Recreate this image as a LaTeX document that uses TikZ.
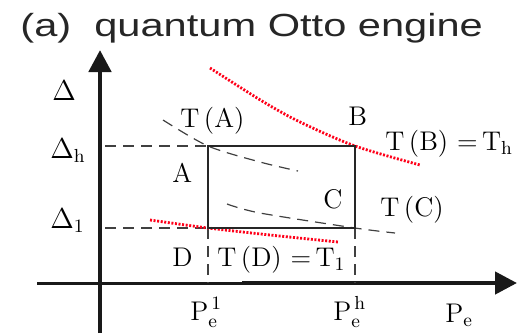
\documentclass[tikz,border=0pt]{standalone}
\usepackage{fontspec}
\newfontfamily\titlefont[FakeStretch=1.3]{Liberation Sans}
\usepackage{tikz}
\usetikzlibrary{arrows.meta}

\begin{document}
\begin{tikzpicture}[x=0.5pt,y=-0.5pt,
  axis/.style={line width=2.4pt,-{Triangle[length=11pt,width=11pt]},black!90},
  cyc/.style={line width=1pt,black!85},
  guide/.style={line width=0.6pt,dash pattern=on 5.5pt off 3.5pt,black!75},
  hot/.style={red!90!magenta,line width=1.4pt,dash pattern=on 1pt off 0.8pt},
  lbl/.style={font=\fontsize{13.5}{15}\selectfont,inner sep=0pt,anchor=base west}
]
\useasboundingbox (0,0) rectangle (529,333);

%% Title
\node[inner sep=0pt,anchor=base west,font=\titlefont\fontsize{16}{18}\selectfont,
      text=black!85] (title) at (20,36) {(a)\ \ quantum Otto engine};

%% Cycle corners
\coordinate (A) at (208,146);
\coordinate (B) at (355,146);
\coordinate (C) at (355,228);
\coordinate (D) at (208,228);

%% Axes
\coordinate (vb) at (100,333);
\coordinate (vt) at (100,50);
\coordinate (hl) at (37,283);
\coordinate (hk) at (242,283);
\coordinate (hr) at (517,283);
\draw[axis] (vb) -- (vt);
\draw[line width=1.5pt,black!90] (hl) -- (hk);
\draw[axis,line width=2.2pt] (hk) -- (hr);

%% Guide lines to the axes
\coordinate (dh) at (105,146);
\coordinate (dl) at (105,228);
\coordinate (pl) at (208,283);
\coordinate (ph) at (355,283);
\draw[guide] (dh) -- (A);
\draw[guide] (dl) -- (D);
\draw[guide] (D) -- (pl);
\draw[guide] (C) -- (ph);

%% Isotherms through A and C
\draw[guide] plot[smooth] coordinates {(163,120) (A) (260,162) (298,171)};
\draw[guide] plot[smooth] coordinates {(227,204) (260,213) (C) (395,233)};

%% Bath isotherms through B and D
\draw[hot] plot[smooth] coordinates {(210,68) (262,101) (300,122) (B) (420,165)};
\draw[hot] plot[smooth] coordinates {(150,220) (D) (270,235) (338,242)};

%% Cycle
\draw[cyc] (A) -- (B) -- (C) -- (D) -- cycle;

%% Labels
\node[lbl] (ldel) at (52,100) {$\Delta$};
\node[lbl] (ldh) at (50,158) {$\Delta_{\mathrm{h}}$};
\node[lbl] (ldl) at (50,228) {$\Delta_{\mathrm{1}}$};
\node[lbl] (lta) at (180,127) {T\,(A)};
\node[lbl] (lb) at (348,125) {B};
\node[lbl] (ltb) at (385,150) {T\,(B)\ =\,T$_{\mathrm{h}}$};
\node[lbl] (la) at (172,182) {A};
\node[lbl] (lc) at (323,208) {C};
\node[lbl] (ltc) at (380,216) {T\,(C)};
\node[lbl] (ld) at (172,266) {D};
\node[lbl] (ltd) at (217,266) {T\,(D)\ =\,T$_{\mathrm{1}}$};
\node[lbl] (lpl) at (190,320) {P$_{\mathrm{e}}^{\,\mathrm{1}}$};
\node[lbl] (lph) at (333,320) {P$_{\mathrm{e}}^{\,\mathrm{h}}$};
\node[lbl] (lpe) at (445,322) {P$_{\mathrm{e}}$};
\end{tikzpicture}
\end{document}
